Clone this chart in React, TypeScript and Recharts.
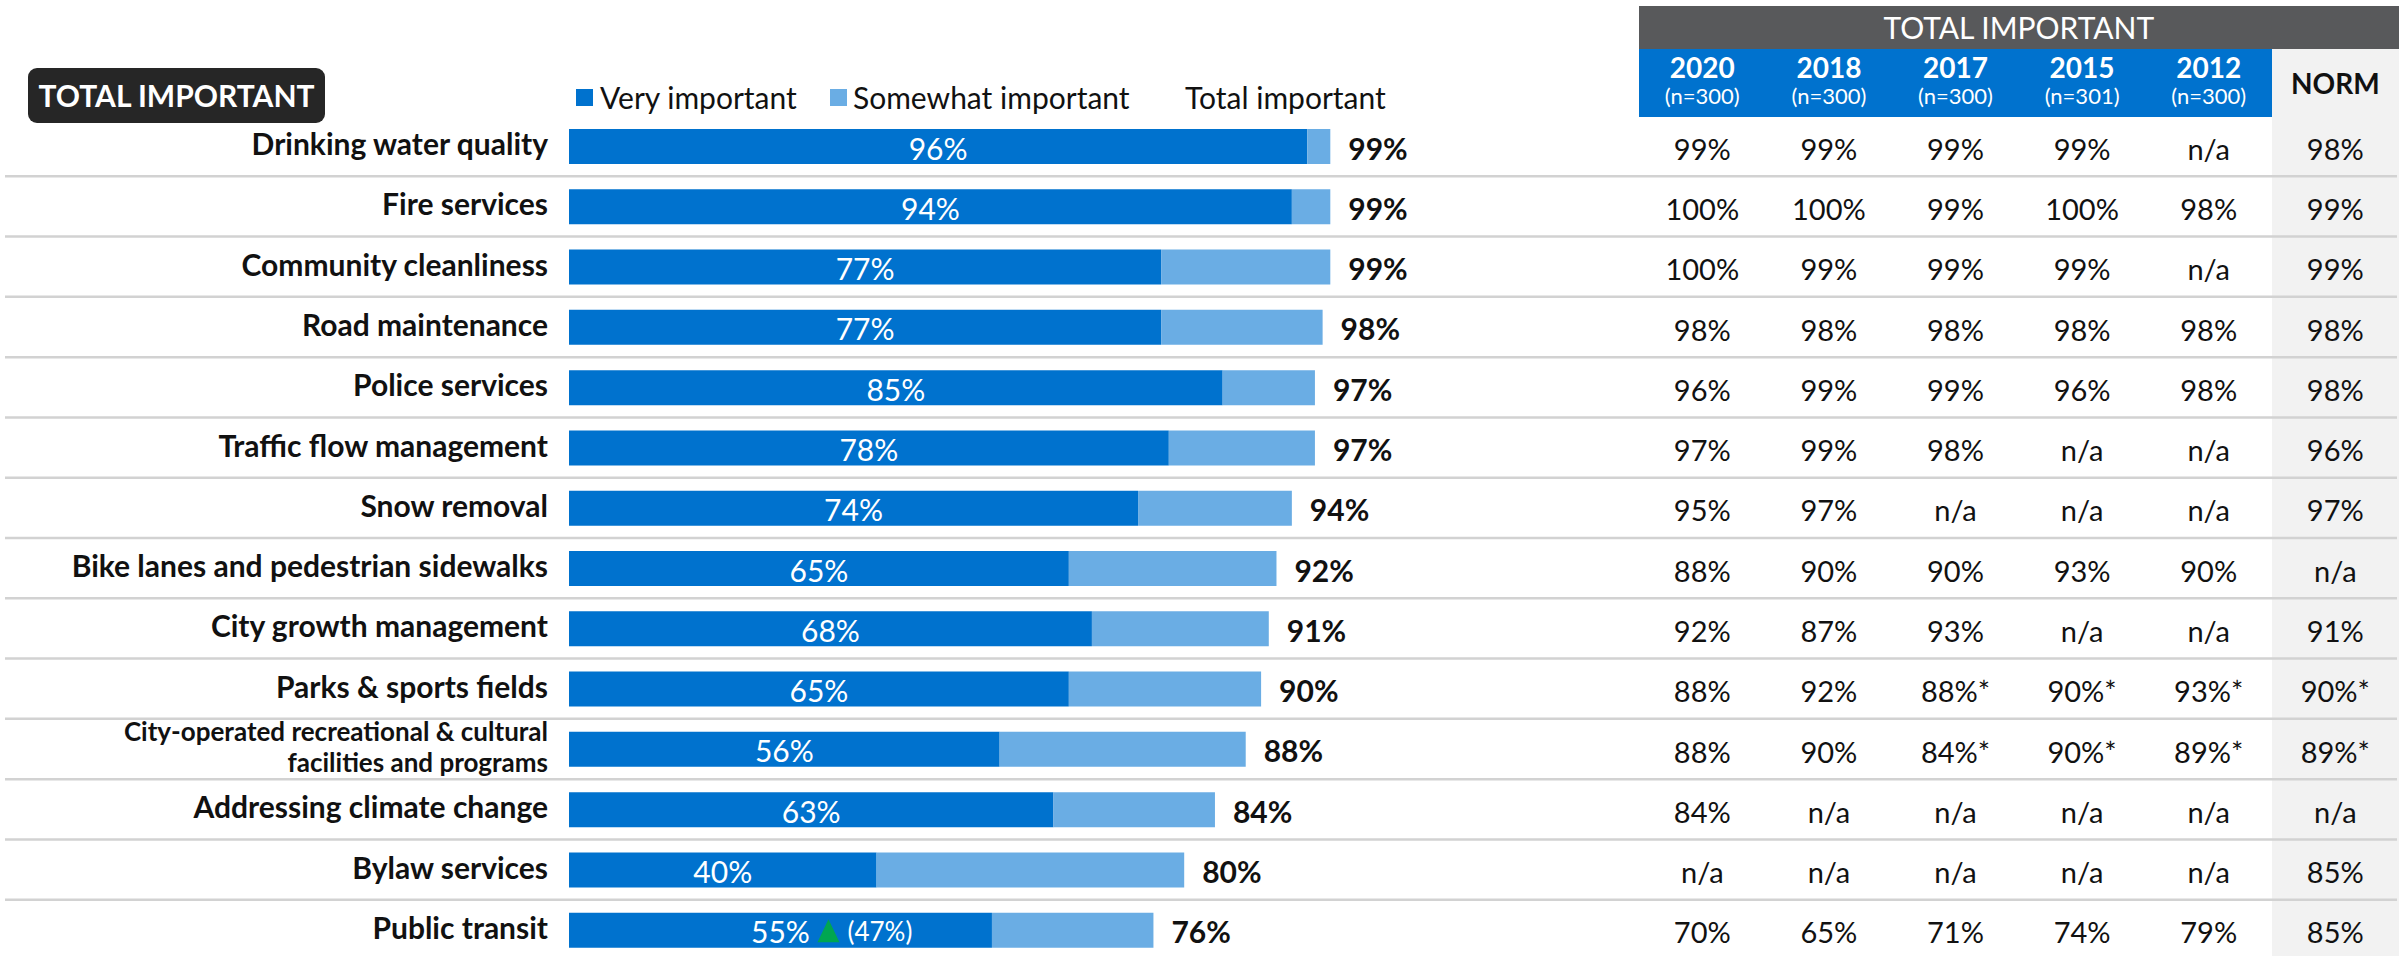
import React from 'react';
import { BarChart, Bar, XAxis, YAxis, LabelList } from 'recharts';

// categories (top to bottom)
const categories = [
  'Drinking water quality',
  'Fire services',
  'Community cleanliness',
  'Road maintenance',
  'Police services',
  'Traffic flow management',
  'Snow removal',
  'Bike lanes and pedestrian sidewalks',
  'City growth management',
  'Parks & sports fields',
  'City-operated recreational & cultural\nfacilities and programs',
  'Addressing climate change',
  'Bylaw services',
  'Public transit',
];

const veryImportant = [96, 94, 77, 77, 85, 78, 74, 65, 68, 65, 56, 63, 40, 55];
const totalImportant = [99, 99, 99, 98, 97, 97, 94, 92, 91, 90, 88, 84, 80, 76];
// previous "very important" shown with an up arrow
const previousVery: (number | null)[] = [null, null, null, null, null, null, null, null, null, null, null, null, null, 47];

// tracking table
const tableYears = ['2020', '2018', '2017', '2015', '2012'];
const tableSamples = ['(n=300)', '(n=300)', '(n=300)', '(n=301)', '(n=300)'];
const t2020 = ['99%', '100%', '100%', '98%', '96%', '97%', '95%', '88%', '92%', '88%', '88%', '84%', 'n/a', '70%'];
const t2018 = ['99%', '100%', '99%', '98%', '99%', '99%', '97%', '90%', '87%', '92%', '90%', 'n/a', 'n/a', '65%'];
const t2017 = ['99%', '99%', '99%', '98%', '99%', '98%', 'n/a', '90%', '93%', '88%*', '84%*', 'n/a', 'n/a', '71%'];
const t2015 = ['99%', '100%', '99%', '98%', '96%', 'n/a', 'n/a', '93%', 'n/a', '90%*', '90%*', 'n/a', 'n/a', '74%'];
const t2012 = ['n/a', '98%', 'n/a', '98%', '98%', 'n/a', 'n/a', '90%', 'n/a', '93%*', '89%*', 'n/a', 'n/a', '79%'];
const norm = ['98%', '99%', '99%', '98%', '98%', '96%', '97%', 'n/a', '91%', '90%*', '89%*', 'n/a', '85%', '85%'];
const tableColumns = [t2020, t2018, t2017, t2015, t2012];

const DARK = '#0072ce';
const LIGHT = '#6aade4';
const FONT = 'Lato, "Noto Sans", sans-serif';

const data = categories.map((label, i) => ({
  label,
  very: veryImportant[i],
  somewhat: totalImportant[i] - veryImportant[i],
  total: totalImportant[i],
  prev: previousVery[i],
}));

const CHART_H = 962;
const MARGIN_TOP = 116;
const MARGIN_BOTTOM = 2;
const ROW_H = (CHART_H - MARGIN_TOP - MARGIN_BOTTOM) / categories.length;

const TABLE_LEFT = 1639;
const COL_W = 126.6;
const NORM_LEFT = TABLE_LEFT + COL_W * 5;

const RowLabel = (props: any) => {
  const { y, payload } = props;
  const lines = String(payload.value).split('\n');
  const lineH = 31;
  const startY = y - 3 - ((lines.length - 1) * lineH) / 2;
  return (
    <g>
      <line x1={5} x2={2397} y1={y + ROW_H / 2} y2={y + ROW_H / 2} stroke="#d2d2d2" strokeWidth={2.5} />
      {lines.map((ln, k) => (
        <text
          key={k}
          x={548}
          y={startY + k * lineH}
          textAnchor="end"
          dominantBaseline="central"
          fontFamily={FONT}
          fontWeight={700}
          fontSize={lines.length > 1 ? 26 : 30}
          fill="#111"
        >
          {ln}
        </text>
      ))}
    </g>
  );
};

const TableRow = (props: any) => {
  const { y, payload } = props;
  const i = payload.index;
  return (
    <g>
      {tableColumns.map((col, c) => (
        <text
          key={c}
          x={TABLE_LEFT + COL_W * c + COL_W / 2}
          y={y + 2}
          textAnchor="middle"
          dominantBaseline="central"
          fontFamily={FONT}
          fontSize={29}
          fill="#111"
        >
          {col[i]}
        </text>
      ))}
      <text
        x={NORM_LEFT + COL_W / 2}
        y={y + 2}
        textAnchor="middle"
        dominantBaseline="central"
        fontFamily={FONT}
        fontSize={29}
        fill="#111"
      >
        {norm[i]}
      </text>
    </g>
  );
};

const VeryLabel = (props: any) => {
  const x = props.x ?? props.viewBox?.x;
  const y = props.y ?? props.viewBox?.y;
  const width = props.width ?? props.viewBox?.width;
  const height = props.height ?? props.viewBox?.height;
  const { value, index } = props;
  const cx = x + width / 2;
  const cy = y + height / 2;
  const prev = data[index]?.prev;
  return (
    <g>
      <text x={cx} y={cy + 1} textAnchor="middle" dominantBaseline="central" fontFamily={FONT} fontSize={30} fill="#fff">
        {value}%
      </text>
      {prev != null && (
        <g>
          <polygon points={`${cx + 37},${cy + 12} ${cx + 59},${cy + 12} ${cx + 48},${cy - 11}`} fill="#00a651" />
          <text x={cx + 67} y={cy + 1} dominantBaseline="central" fontFamily={FONT} fontSize={26} fill="#fff">
            ({prev}%)
          </text>
        </g>
      )}
    </g>
  );
};

const TotalLabel = (props: any) => {
  const x = props.x ?? props.viewBox?.x;
  const y = props.y ?? props.viewBox?.y;
  const width = props.width ?? props.viewBox?.width;
  const height = props.height ?? props.viewBox?.height;
  return (
    <text
      x={x + width + 18}
      y={y + height / 2 + 1}
      dominantBaseline="central"
      fontFamily={FONT}
      fontWeight={700}
      fontSize={30}
      fill="#111"
    >
      {props.value}%
    </text>
  );
};

const legendText: React.CSSProperties = { position: 'absolute', top: 78, fontSize: 30, lineHeight: '38px', color: '#111', whiteSpace: 'nowrap' };
const legendBox: React.CSSProperties = { position: 'absolute', top: 89, width: 17, height: 17 };

const App = () => {
  return (
    <div style={{ position: 'absolute', left: 0, top: 0, width: 2407, height: 956, overflow: 'hidden', background: '#fff', fontFamily: FONT }}>
      {/* NORM column background */}
      <div style={{ position: 'absolute', left: NORM_LEFT, top: 49, width: COL_W, height: 920, background: '#f2f2f2' }} />

      {/* table header */}
      <div
        style={{
          position: 'absolute', left: TABLE_LEFT, top: 6, width: COL_W * 6, height: 43, background: '#58595b',
          color: '#fff', fontSize: 30, lineHeight: '43px', textAlign: 'center',
        }}
      >
        TOTAL IMPORTANT
      </div>
      <div style={{ position: 'absolute', left: TABLE_LEFT, top: 49, width: COL_W * 5, height: 68, background: DARK }} />
      {tableYears.map((yr, c) => (
        <div
          key={yr}
          style={{ position: 'absolute', left: TABLE_LEFT + COL_W * c, top: 51, width: COL_W, textAlign: 'center', color: '#fff' }}
        >
          <div style={{ fontSize: 28, fontWeight: 700, lineHeight: '32px' }}>{yr}</div>
          <div style={{ fontSize: 22, lineHeight: '26px' }}>{tableSamples[c]}</div>
        </div>
      ))}
      <div
        style={{
          position: 'absolute', left: NORM_LEFT, top: 49, width: COL_W, height: 68, lineHeight: '68px',
          textAlign: 'center', fontSize: 28, fontWeight: 700, color: '#111',
        }}
      >
        NORM
      </div>

      {/* left title box */}
      <div
        style={{
          position: 'absolute', left: 28, top: 68, width: 297, height: 55, background: '#262626', borderRadius: 9,
          color: '#fff', fontSize: 30, fontWeight: 700, lineHeight: '55px', textAlign: 'center', whiteSpace: 'nowrap',
        }}
      >
        TOTAL IMPORTANT
      </div>

      {/* legend */}
      <div style={{ ...legendBox, left: 576, background: DARK }} />
      <div style={{ ...legendText, left: 600 }}>Very important</div>
      <div style={{ ...legendBox, left: 830, background: LIGHT }} />
      <div style={{ ...legendText, left: 853 }}>Somewhat important</div>
      <div style={{ ...legendText, left: 1185 }}>Total important</div>

      <div style={{ position: 'absolute', left: 0, top: 0 }}>
        <BarChart
          width={2407}
          height={CHART_H}
          data={data}
          layout="vertical"
          margin={{ top: MARGIN_TOP, right: 0, bottom: MARGIN_BOTTOM, left: 0 }}
          barSize={35}
        >
          <XAxis type="number" domain={[0, 100]} hide />
          <YAxis
            yAxisId="rows"
            type="category"
            dataKey="label"
            width={569}
            axisLine={false}
            tickLine={false}
            interval={0}
            tick={<RowLabel />}
          />
          <YAxis
            yAxisId="table"
            orientation="right"
            type="category"
            dataKey="label"
            width={1069}
            axisLine={false}
            tickLine={false}
            interval={0}
            tick={<TableRow />}
          />
          <Bar yAxisId="rows" dataKey="very" stackId="a" fill={DARK} isAnimationActive={false}>
            <LabelList dataKey="very" content={<VeryLabel />} />
          </Bar>
          <Bar yAxisId="rows" dataKey="somewhat" stackId="a" fill={LIGHT} isAnimationActive={false}>
            <LabelList dataKey="total" content={<TotalLabel />} />
          </Bar>
        </BarChart>
      </div>
    </div>
  );
};

export default App;
